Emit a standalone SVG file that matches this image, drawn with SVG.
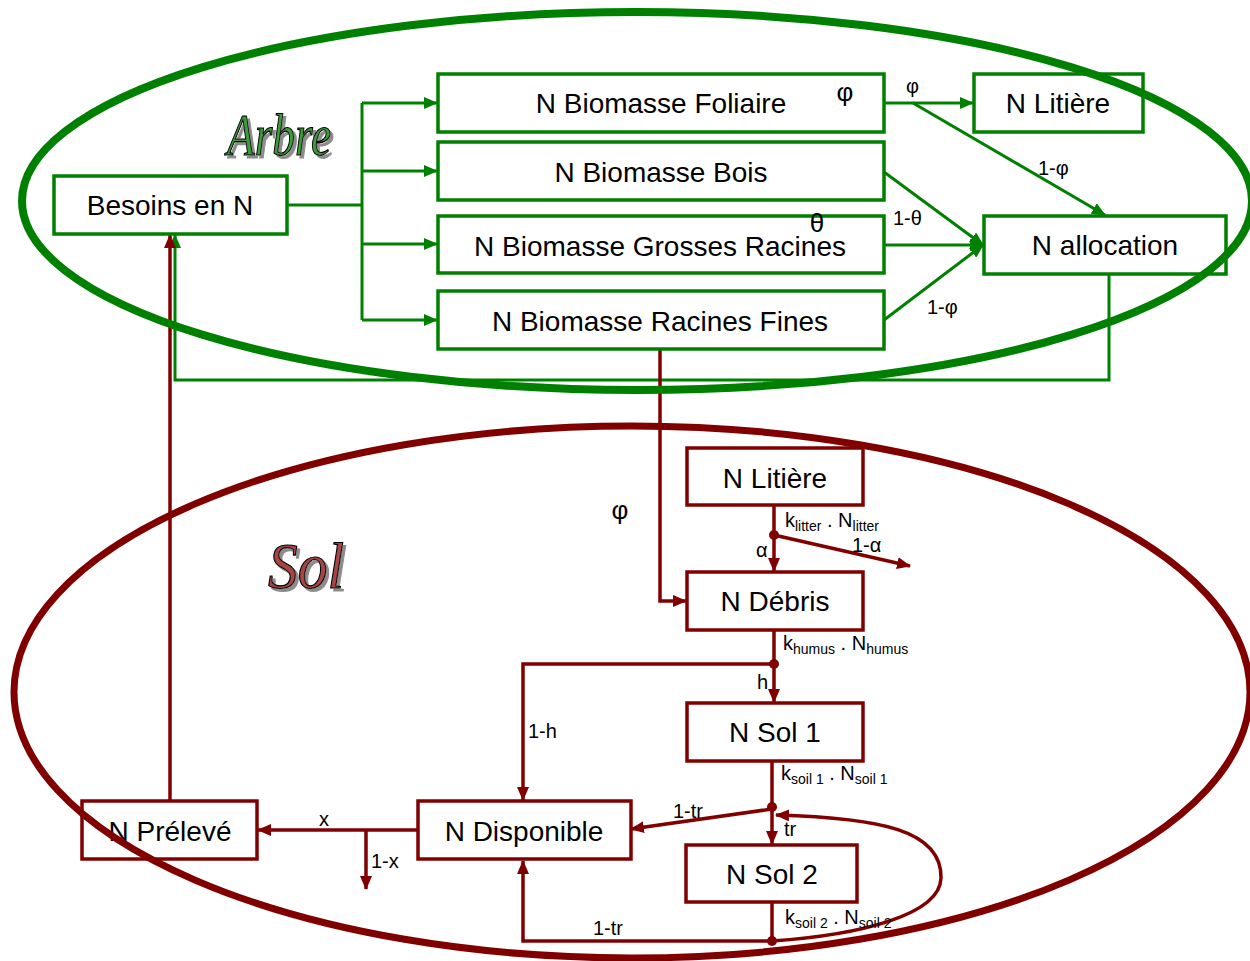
<svg xmlns="http://www.w3.org/2000/svg" width="1250" height="961" viewBox="0 0 1250 961">
<style>
.bg{fill:#ffffff}
.gbox{fill:#ffffff;stroke:#008000;stroke-width:3.5}
.rbox{fill:#ffffff;stroke:#800000;stroke-width:3.5}
.lbl{font-family:"Liberation Sans",Arial,sans-serif;font-size:28px;fill:#000;text-anchor:middle}
.sm{font-family:"Liberation Sans",Arial,sans-serif;font-size:20px;fill:#000}
.gr{font-family:"Liberation Sans",Arial,sans-serif;font-size:26px;fill:#000;text-anchor:middle}
.sub{font-size:14px}
.gl{fill:none;stroke:#008000;stroke-width:3}
.rl{fill:none;stroke:#800000;stroke-width:3.5}
.dot{fill:#800000}
.title{font-family:"Liberation Serif","Times New Roman",serif;font-style:italic;stroke:#000;stroke-width:1.2;filter:url(#sh)}
</style>
<defs>
<marker id="ga" markerUnits="userSpaceOnUse" markerWidth="14" markerHeight="12" refX="13" refY="6" orient="auto"><path d="M0,0 L14,6 L0,12 z" fill="#008000"/></marker>
<marker id="ra" markerUnits="userSpaceOnUse" markerWidth="14" markerHeight="12" refX="13" refY="6" orient="auto"><path d="M0,0 L14,6 L0,12 z" fill="#800000"/></marker>
<filter id="sh" x="-20%" y="-20%" width="140%" height="140%"><feDropShadow dx="3" dy="3" stdDeviation="0.6" flood-color="#8c8c8c" flood-opacity="1"/></filter>
</defs>
<rect class="bg" x="0" y="0" width="1250" height="961"/>

<g id="connectors">
  <path class="gl" d="M287,205 H362"/>
  <path class="gl" d="M362,103 V320"/>
  <path class="gl" d="M362,103 H437" marker-end="url(#ga)"/>
  <path class="gl" d="M362,171 H437" marker-end="url(#ga)"/>
  <path class="gl" d="M362,244 H437" marker-end="url(#ga)"/>
  <path class="gl" d="M362,320 H437" marker-end="url(#ga)"/>
  <path class="gl" d="M884,103 H973" marker-end="url(#ga)"/>
  <path class="gl" d="M913,103 L1105,215" marker-end="url(#ga)"/>
  <path class="gl" d="M884,172 L983,245" marker-end="url(#ga)"/>
  <path class="gl" d="M884,245 H983" marker-end="url(#ga)"/>
  <path class="gl" d="M884,320 L983,245" marker-end="url(#ga)"/>
  <path class="gl" d="M1109,274 V380 H175 V235" marker-end="url(#ga)"/>
  <path class="rl" d="M170,800 V235" marker-end="url(#ra)"/>
  <path class="rl" d="M660,349 V601 H686" marker-end="url(#ra)"/>
  <path class="rl" d="M774,505 V571" marker-end="url(#ra)"/>
  <path class="rl" d="M774,535 L910,566" marker-end="url(#ra)"/>
  <path class="rl" d="M774,631 V702" marker-end="url(#ra)"/>
  <path class="rl" d="M774,664 H523 V800" marker-end="url(#ra)"/>
  <path class="rl" d="M772,762 V844" marker-end="url(#ra)"/>
  <path class="rl" d="M772,809 L631,829" marker-end="url(#ra)"/>
  <path class="rl" d="M772,902 V941 H523 V861" marker-end="url(#ra)"/>
  <path class="rl" d="M772,941 C860,935 940,915 941,878 C942,830 880,818 776,815" marker-end="url(#ra)"/>
  <path class="rl" d="M418,830 H258" marker-end="url(#ra)"/>
  <path class="rl" d="M366,830 V889" marker-end="url(#ra)"/>
  <circle class="dot" cx="774" cy="535" r="5"/>
  <circle class="dot" cx="774" cy="664" r="5"/>
  <circle class="dot" cx="772" cy="807" r="5"/>
  <circle class="dot" cx="772" cy="941" r="5"/>
  <text class="sm" x="906" y="93">φ</text>
  <text class="sm" x="1038" y="175">1-φ</text>
  <text class="sm" x="893" y="225">1-θ</text>
  <text class="sm" x="927" y="314">1-φ</text>
  <text class="gr" x="620" y="519">φ</text>
  <text class="sm" x="785" y="527">k<tspan class="sub" dy="4">litter</tspan><tspan dy="-4"> . N</tspan><tspan class="sub" dy="4">litter</tspan></text>
  <text class="sm" x="756" y="557">α</text>
  <text class="sm" x="852" y="552">1-α</text>
  <text class="sm" x="783" y="650">k<tspan class="sub" dy="4">humus</tspan><tspan dy="-4"> . N</tspan><tspan class="sub" dy="4">humus</tspan></text>
  <text class="sm" x="757" y="689">h</text>
  <text class="sm" x="528" y="738">1-h</text>
  <text class="sm" x="781" y="780">k<tspan class="sub" dy="4">soil 1</tspan><tspan dy="-4"> . N</tspan><tspan class="sub" dy="4">soil 1</tspan></text>
  <text class="sm" x="673" y="818">1-tr</text>
  <text class="sm" x="784" y="836">tr</text>
  <text class="sm" x="785" y="924">k<tspan class="sub" dy="4">soil 2</tspan><tspan dy="-4"> . N</tspan><tspan class="sub" dy="4">soil 2</tspan></text>
  <text class="sm" x="593" y="935">1-tr</text>
  <text class="sm" x="319" y="826">x</text>
  <text class="sm" x="371" y="868">1-x</text>
</g>

<g id="besoins"><rect class="gbox" x="54" y="176" width="233" height="58"/><text class="lbl" x="170" y="215">Besoins en N</text></g>
<g id="foliaire"><rect class="gbox" x="438" y="74" width="446" height="58"/><text class="lbl" x="661" y="113">N Biomasse Foliaire</text><text class="gr" x="845" y="101">φ</text></g>
<g id="bois"><rect class="gbox" x="438" y="142" width="446" height="58"/><text class="lbl" x="661" y="182">N Biomasse Bois</text></g>
<g id="grosses"><rect class="gbox" x="438" y="216" width="446" height="57"/><text class="lbl" x="660" y="256">N Biomasse Grosses Racines</text></g>
<g id="fines"><rect class="gbox" x="438" y="291" width="446" height="58"/><text class="lbl" x="660" y="331">N Biomasse Racines Fines</text></g>
<g id="litiere-arbre"><rect class="gbox" x="974" y="74" width="169" height="58"/><text class="lbl" x="1058" y="113">N Litière</text></g>
<g id="allocation"><rect class="gbox" x="984" y="216" width="242" height="58"/><text class="lbl" x="1105" y="255">N allocation</text></g>
<g id="theta"><text class="gr" x="817" y="232">θ</text></g>

<g id="litiere-sol"><rect class="rbox" x="687" y="448" width="176" height="57"/><text class="lbl" x="775" y="488">N Litière</text></g>
<g id="debris"><rect class="rbox" x="687" y="572" width="176" height="58"/><text class="lbl" x="775" y="611">N Débris</text></g>
<g id="sol1"><rect class="rbox" x="687" y="703" width="176" height="58"/><text class="lbl" x="775" y="742">N Sol 1</text></g>
<g id="sol2"><rect class="rbox" x="686" y="845" width="171" height="57"/><text class="lbl" x="772" y="884">N Sol 2</text></g>
<g id="disponible"><rect class="rbox" x="418" y="801" width="213" height="58"/><text class="lbl" x="524" y="841">N Disponible</text></g>
<g id="preleve"><rect class="rbox" x="82" y="801" width="175" height="58"/><text class="lbl" x="170" y="841">N Prélevé</text></g>

<g id="arbre-zone">
  <ellipse cx="637" cy="201" rx="615" ry="189" fill="none" stroke="#008000" stroke-width="8"/>
  <text class="title" x="227" y="155" font-size="60" textLength="104" lengthAdjust="spacingAndGlyphs" fill="#3c9a3c">Arbre</text>
</g>
<g id="sol-zone">
  <ellipse cx="632" cy="692" rx="618" ry="266" fill="none" stroke="#800000" stroke-width="7"/>
  <text class="title" x="268" y="588" font-size="66" textLength="76" lengthAdjust="spacingAndGlyphs" fill="#a54545">Sol</text>
</g>
</svg>
